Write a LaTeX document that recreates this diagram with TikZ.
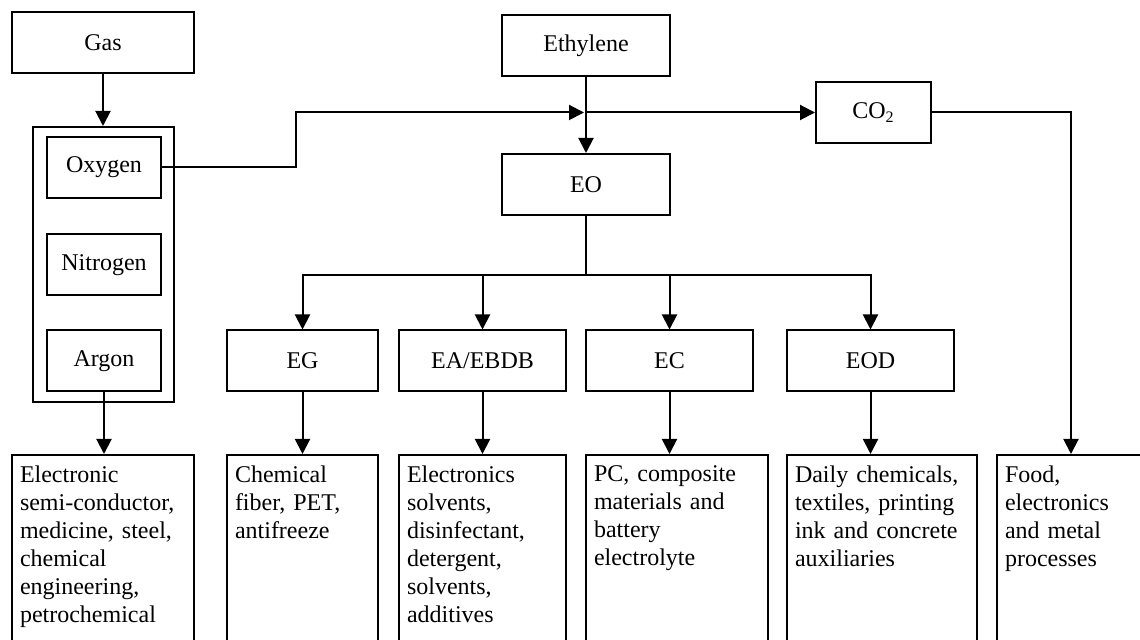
\documentclass[tikz,border=0pt]{standalone}
\usepackage{fontspec}
\setmainfont{Liberation Serif}
\usetikzlibrary{arrows.meta}
\tikzset{chart/.style={x=0.5pt,y=-0.5pt,font=\fontsize{12}{14}\selectfont,line width=1pt},
  stage/.style={draw,inner sep=0pt,minimum height=30.5pt},
  usage/.style={draw,anchor=north,align=left,inner xsep=4pt,inner ysep=5.5pt,text depth=120pt},
  flow/.style={-{Triangle[length=7.5pt,width=7.5pt]}}}

\begin{document}
\begin{tikzpicture}[chart]
    \useasboundingbox (0,0) rectangle (1140,640);
    \clip (0,0) rectangle (1140,640);
    % gases
    \node[stage,minimum width=91pt] (gas) at (103,43) {Gas};
    \node[draw,inner sep=0pt,minimum width=70.5pt,minimum height=137.5pt] (group) at (103.5,264.5) {};
    \node[stage,minimum width=57pt] (oxygen) at (104,167.5) {Oxygen};
    \node[stage,minimum width=57pt] (nitrogen) at (104,265) {Nitrogen};
    \node[stage,minimum width=57pt] (argon) at (104,361) {Argon};
    % ethylene chain
    \node[stage,minimum width=84pt] (ethylene) at (586,46) {Ethylene};
    \node[stage,minimum width=84pt] (eo) at (586,184.5) {EO};
    \node[stage,minimum width=57.5pt] (co2) at (873.5,112.5) {CO\textsubscript{2}};
    \node[stage,minimum width=75.5pt] (eg) at (302.5,361) {EG};
    \node[stage,minimum width=83.5pt] (eaebdb) at (482.5,361) {EA/EBDB};
    \node[stage,minimum width=83.5pt] (ec) at (669.5,361) {EC};
    \node[stage,minimum width=83.5pt] (eod) at (870.5,361) {EOD};
    % applications
    \node[usage,text width=83pt] (use1) at (103,454) {Electronic\\semi-conductor,\\medicine, steel,\\chemical\\engineering,\\petrochemical};
    \node[usage,text width=67.5pt] (use2) at (302.5,454) {Chemical\\fiber, PET,\\antifreeze};
    \node[usage,text width=75.5pt] (use3) at (482.5,454) {Electronics\\solvents,\\disinfectant,\\detergent,\\solvents,\\additives};
    \node[usage,text width=83pt] (use4) at (677,454) {PC, composite\\materials and\\battery\\electrolyte};
    \node[usage,text width=87pt] (use5) at (882,454) {Daily chemicals,\\textiles, printing\\ink and concrete\\auxiliaries};
    \node[usage,text width=66pt] (use6) at (1071,454) {Food,\\electronics\\and metal\\processes};
    \coordinate (mix) at (ethylene.south |- co2.west);
    \draw[flow] (gas.south) -- (gas.south |- group.north);
    \draw[flow] (argon.south) -- (argon.south |- use1.north);
    \draw[flow,shorten >=1pt] (oxygen.east) -- ++(134,0) |- (mix);
    \draw[flow] (mix) -- (co2.west);
    \draw[flow] (ethylene.south) -- (eo.north);
    \draw[flow] (co2.east) -| (use6.north);
    \draw (eo.south) -- ++(0,59) coordinate (split);
    \foreach \s in {eg,eaebdb,ec,eod} \draw[flow] (split) -| (\s.north);
    \foreach \s/\u in {eg/use2,eaebdb/use3,ec/use4,eod/use5} \draw[flow] (\s.south) -- (\s.south |- \u.north);
\end{tikzpicture}
\end{document}
